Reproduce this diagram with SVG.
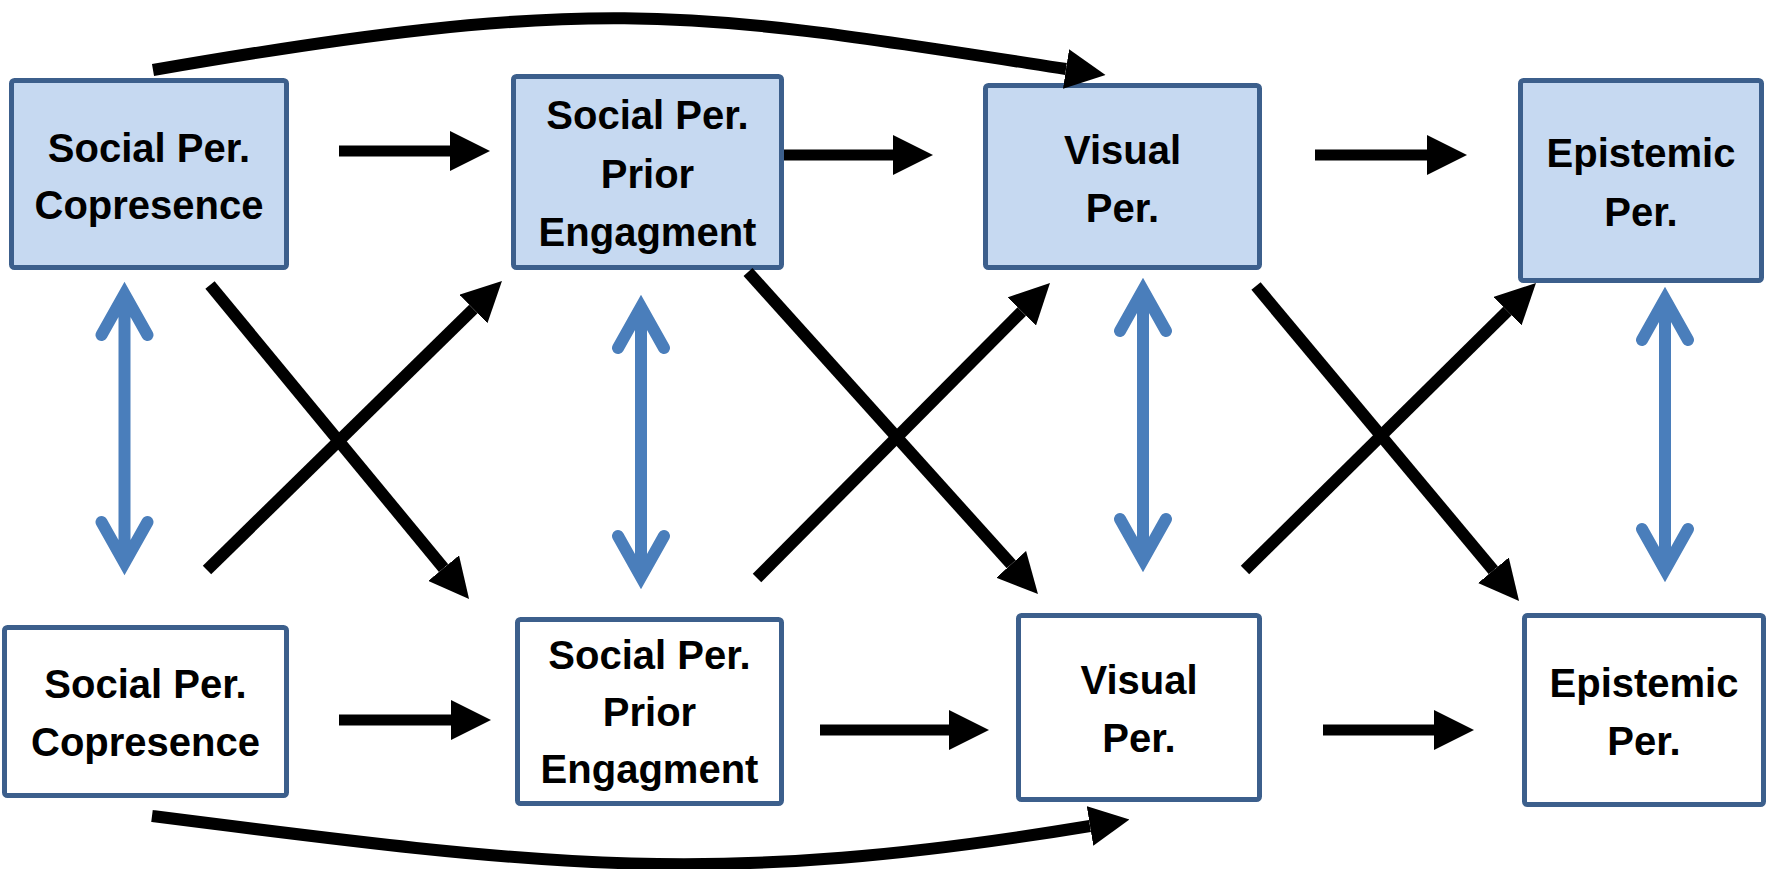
<svg xmlns="http://www.w3.org/2000/svg" width="1767" height="869" viewBox="0 0 1767 869">
<defs>
<style>
.box{stroke:#3C5F8C;stroke-width:5}
.top{fill:#C6D9F1}
.bot{fill:#FFFFFF}
text{font-family:"Liberation Sans",Arial,sans-serif;font-weight:bold;font-size:40px;fill:#000;text-anchor:middle}
.arr{fill:none;stroke:#000;stroke-width:12;marker-end:url(#ah)}
.harr{fill:none;stroke:#000;stroke-width:11;marker-end:url(#ah)}
.dbl{fill:none;stroke:#4A7EBB;stroke-width:12;stroke-linecap:round;stroke-linejoin:miter}
</style>
<marker id="ah" markerUnits="userSpaceOnUse" viewBox="0 -20 40 40" refX="0" refY="0" markerWidth="40" markerHeight="40" orient="auto">
<path d="M0,-20 L40,0 L0,20 Z" fill="#000"/>
</marker>
</defs>
<rect width="1767" height="869" fill="#FFFFFF"/>
<g id="A1"><rect class="box top" x="11.5" y="80.5" width="275" height="187" rx="3"/><text x="149" y="162">Social Per.</text><text x="149" y="219">Copresence</text></g>
<g id="A2"><rect class="box top" x="513.5" y="76.5" width="268" height="191" rx="3"/><text x="647.5" y="129">Social Per.</text><text x="647.5" y="188">Prior</text><text x="647.5" y="246">Engagment</text></g>
<g id="A3"><rect class="box top" x="985.5" y="85.5" width="274" height="182" rx="3"/><text x="1122.5" y="164">Visual</text><text x="1122.5" y="222">Per.</text></g>
<g id="A4"><rect class="box top" x="1520.5" y="80.5" width="241" height="200" rx="3"/><text x="1641" y="167">Epistemic</text><text x="1641" y="226">Per.</text></g>
<g id="B1"><rect class="box bot" x="4.5" y="627.5" width="282" height="168" rx="3"/><text x="145.5" y="698">Social Per.</text><text x="145.5" y="756">Copresence</text></g>
<g id="B2"><rect class="box bot" x="517.5" y="619.5" width="264" height="184" rx="3"/><text x="649.5" y="669">Social Per.</text><text x="649.5" y="726">Prior</text><text x="649.5" y="783">Engagment</text></g>
<g id="B3"><rect class="box bot" x="1018.5" y="615.5" width="241" height="184" rx="3"/><text x="1139" y="694">Visual</text><text x="1139" y="752">Per.</text></g>
<g id="B4"><rect class="box bot" x="1524.5" y="615.5" width="239" height="189" rx="3"/><text x="1644" y="697">Epistemic</text><text x="1644" y="755">Per.</text></g>
<g id="connectors">
<path class="harr" d="M339,151 L450,151"/>
<path class="harr" d="M784,155 L893,155"/>
<path class="harr" d="M1315,155 L1427,155"/>
<path class="harr" d="M339,720 L451,720"/>
<path class="harr" d="M820,730 L949,730"/>
<path class="harr" d="M1323,730 L1434,730"/>
<path class="arr" d="M153,70 C603,-8 691,11 1066,69"/>
<path class="arr" d="M152,816 C552,867 715,888 1090,826"/>
<path class="arr" d="M210,285 L443.6,568.1"/>
<path class="arr" d="M207,570 L473.4,309"/>
<path class="arr" d="M748,272 L1011.2,564.3"/>
<path class="arr" d="M757,578 L1021.8,311.4"/>
<path class="arr" d="M1256,286 L1493.4,570.3"/>
<path class="arr" d="M1245,570 L1507.5,311.1"/>
<path class="dbl" d="M124.5,294 L124.5,563 M101.5,335 L124.5,294 L147.5,335 M101.5,522 L124.5,563 L147.5,522"/>
<path class="dbl" d="M641,307 L641,577 M618,348 L641,307 L664,348 M618,536 L641,577 L664,536"/>
<path class="dbl" d="M1143,290 L1143,560 M1120,331 L1143,290 L1166,331 M1120,519 L1143,560 L1166,519"/>
<path class="dbl" d="M1665,299 L1665,570 M1642,340 L1665,299 L1688,340 M1642,529 L1665,570 L1688,529"/>
</g>
</svg>
